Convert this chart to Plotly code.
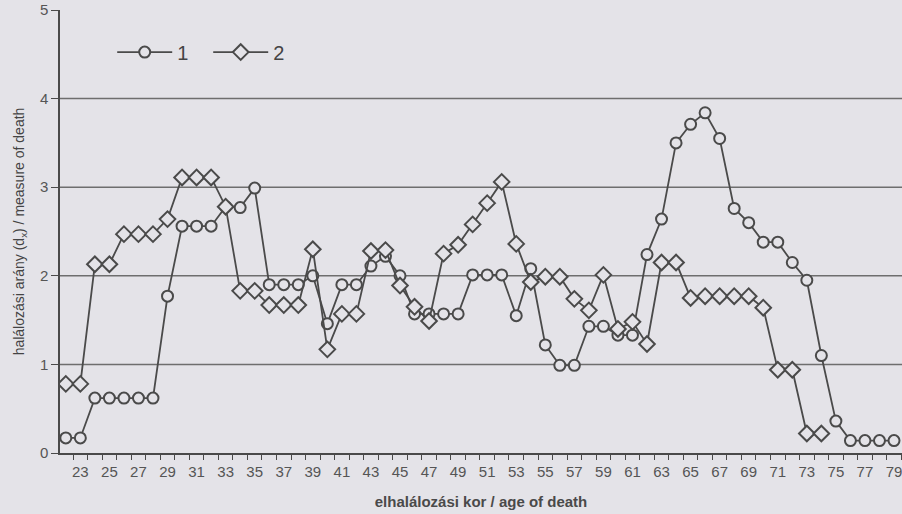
import plotly.graph_objects as go

# age of death 22..79
ages = list(range(22, 80))

series_1 = [0.17, 0.17, 0.62, 0.62, 0.62, 0.62, 0.62, 1.77, 2.56, 2.56,
            2.56, 2.78, 2.77, 2.99, 1.90, 1.90, 1.90, 2.00, 1.46, 1.90,
            1.90, 2.11, 2.22, 2.00, 1.57, 1.57, 1.57, 1.57, 2.01, 2.01,
            2.01, 1.55, 2.08, 1.22, 0.99, 0.99, 1.43, 1.43, 1.33, 1.33,
            2.24, 2.64, 3.50, 3.71, 3.84, 3.55, 2.76, 2.60, 2.38, 2.38,
            2.15, 1.95, 1.10, 0.36, 0.14, 0.14, 0.14, 0.14]

series_2 = [0.78, 0.78, 2.13, 2.13, 2.47, 2.47, 2.47, 2.64, 3.11, 3.11,
            3.11, 2.78, 1.83, 1.83, 1.67, 1.67, 1.67, 2.30, 1.17, 1.57,
            1.57, 2.28, 2.29, 1.89, 1.65, 1.49, 2.25, 2.35, 2.58, 2.82,
            3.06, 2.36, 1.93, 1.99, 1.99, 1.74, 1.61, 2.01, 1.40, 1.48,
            1.23, 2.15, 2.15, 1.75, 1.77, 1.77, 1.77, 1.77, 1.64, 0.94,
            0.94, 0.22, 0.22]

x_labels = list(range(23, 80, 2))
grid_levels = [1, 2, 3, 4]

bg = '#e4e3e8'
ink = '#4a4a4a'
font = 'Liberation Sans, Arial, sans-serif'

fig = go.Figure()

fig.add_trace(go.Scatter(
    x=ages, y=series_1, name='1', mode='lines+markers',
    line=dict(color=ink, width=1.8),
    marker=dict(symbol='circle', size=11, color=bg, line=dict(color=ink, width=2)),
))

fig.add_trace(go.Scatter(
    x=ages[:len(series_2)], y=series_2, name='2', mode='lines+markers',
    line=dict(color=ink, width=1.8),
    marker=dict(symbol='diamond', size=12, color=bg, line=dict(color=ink, width=2)),
))

# horizontal gridlines (none at the top value)
for g in grid_levels:
    fig.add_shape(type='line', xref='paper', x0=0, x1=1, yref='y', y0=g, y1=g,
                  line=dict(color='#6e6e6e', width=1.5), layer='below')

fig.update_layout(
    width=902, height=514,
    paper_bgcolor=bg, plot_bgcolor=bg,
    margin=dict(l=60, r=0, t=10, b=61),
    font=dict(family=font, color='#555555', size=14),
    showlegend=True,
    legend=dict(orientation='h', x=0.062, y=0.905, xanchor='left', yanchor='middle',
                bgcolor='rgba(0,0,0,0)', font=dict(size=20, color='#444444'),
                itemwidth=55, entrywidth=26, entrywidthmode='pixels'),
    xaxis=dict(
        range=[21.6, 79.55], tickmode='array', tickvals=x_labels,
        ticktext=[str(v) for v in x_labels], ticklabeloverflow='allow',
        ticks='outside', ticklen=4, tickcolor='rgba(0,0,0,0)',
        showgrid=False, zeroline=False,
        showline=True, linecolor=ink, linewidth=1.5,
        minor=dict(tick0=21.5, dtick=1, ticks='outside', ticklen=5,
                   tickcolor=ink, tickwidth=1.2, showgrid=False),
        tickfont=dict(size=15, color='#555555'),
        title=dict(text='<b>elhalálozási kor / age of death</b>', standoff=18,
                   font=dict(size=15, color='#4a4a4a')),
    ),
    yaxis=dict(
        range=[0, 5], tickmode='linear', tick0=0, dtick=1,
        ticks='outside', ticklen=7, tickcolor=ink, tickwidth=1.2,
        showgrid=False, zeroline=False,
        showline=True, linecolor=ink, linewidth=1.5,
        tickfont=dict(size=15, color='#555555'),
        title=dict(text='halálozási arány (d<sub>x</sub>) / measure of death', standoff=12,
                   font=dict(size=14, color='#444444')),
    ),
)

fig.write_html("out.html", config={'displayModeBar': False},
               post_script="document.body.style.margin='0';")
